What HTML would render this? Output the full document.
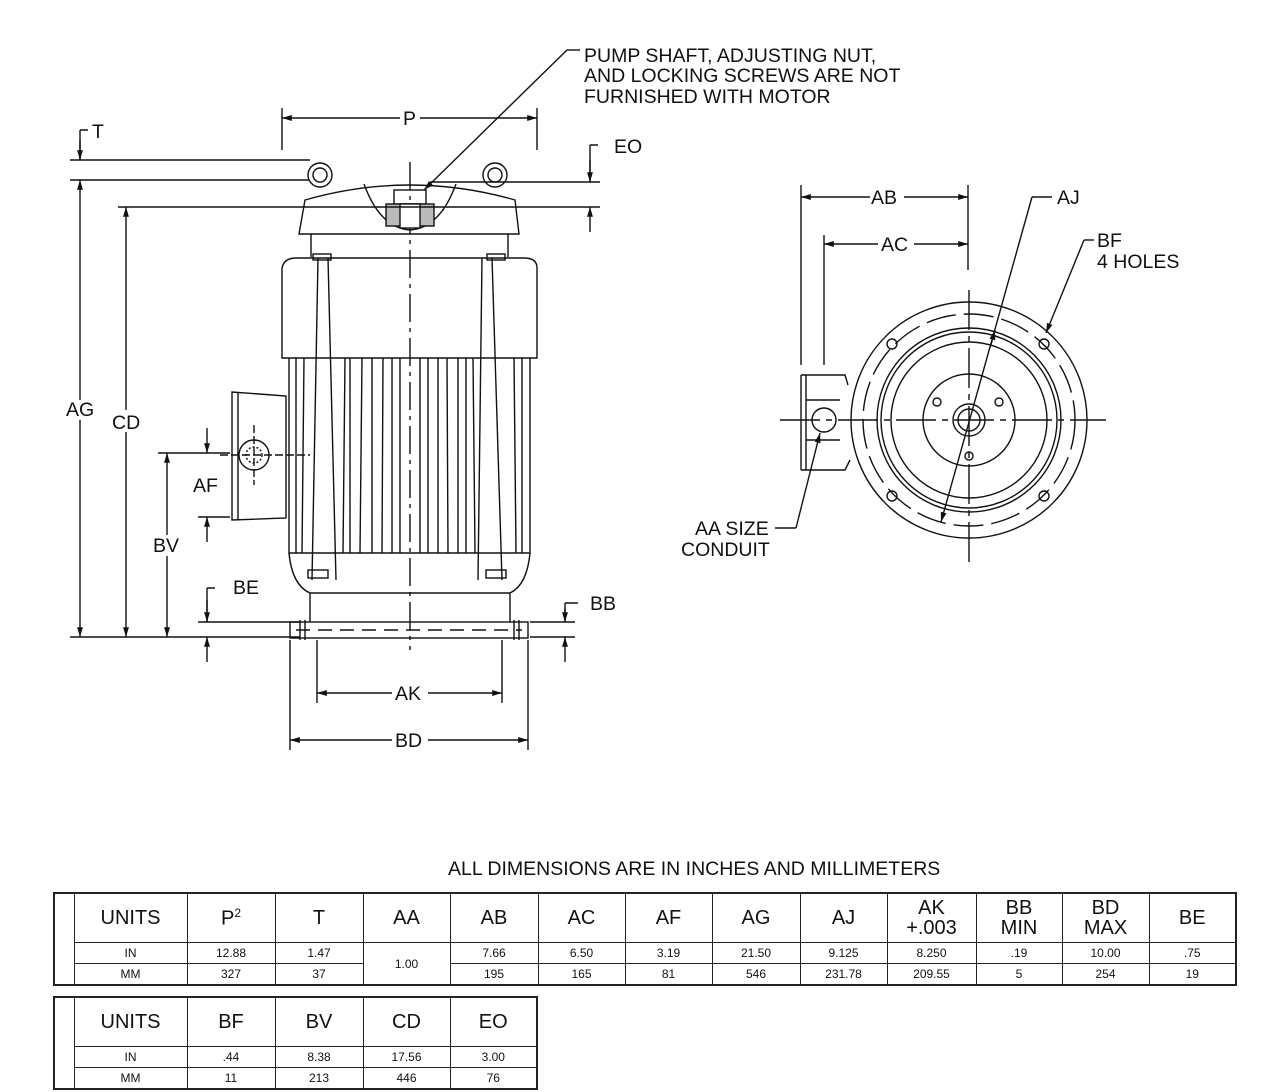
<!DOCTYPE html>
<html><head><meta charset="utf-8"><style>
body{margin:0;background:#fff;}
svg{display:block;font-family:"Liberation Sans",Arial,sans-serif;}
svg text{fill:#111;stroke:none;}
table{border-collapse:collapse;position:absolute;font-family:"Liberation Sans",Arial,sans-serif;text-align:center;}
td{border:1.5px solid #222;padding:0;font-size:12px;color:#111;}
.h td{font-size:20px;height:48px;}
.r td{height:20px;}
</style></head><body>
<div style="position:relative;width:1280px;height:1092px;overflow:hidden">
<svg width="1280" height="1092" viewBox="0 0 1280 1092" stroke="#111" fill="none" stroke-width="1.4">
<defs><marker id="a" viewBox="0 0 10 10" refX="10" refY="5" markerWidth="10" markerHeight="7" orient="auto-start-reverse"><path d="M0,2L10,5L0,8z" fill="#111" stroke="none"/></marker></defs>
<g font-size="19.5" fill="none">
<line x1="410" y1="162" x2="410" y2="650" stroke-dasharray="28,6,4,6"/>
<circle cx="320" cy="175" r="12"/><circle cx="320" cy="175" r="7"/>
<circle cx="495" cy="175" r="12"/><circle cx="495" cy="175" r="7"/>
<path d="M299,234 L305,200 Q410,170 515,200 L519,234 Z"/>
<path d="M364,184 Q380,228 410,230 Q440,228 456,184"/>
<rect x="394" y="190" width="32" height="14"/><rect x="386" y="204" width="48" height="22" fill="#bbb"/>
<rect x="400" y="204" width="20" height="24" fill="#fff"/>
<path d="M311,234 L311,257 M508,234 L508,257"/>
<path d="M282,358 L282,268 Q284,258 296,258 L524,258 Q537,258 537,268 L537,358 Z"/>
<path d="M318,258 L312,580 M328,258 L336,580 M492,258 L502,580 M482,258 L478,580"/>
<rect x="313" y="254" width="18" height="6"/><rect x="487" y="254" width="18" height="6"/>
<path d="M289,358 L289,553 L530,553 L530,358"/>
<path d="M296,358L296,553 M304,358L302,553 M345,358L343,553 M350,358L350,553 M362,358L360,553 M372,358L372,553 M383,358L382,553 M392,358L392,553 M400,358L400,553 M420,358L420,553 M428,358L428,553 M438,358L438,553 M447,358L448,553 M458,358L458,553 M466,358L466,553 M473,358L475,553 M514,358L516,553 M522,358L522,553"/>
<path d="M289,553 Q292,585 310,593 L310,622 M530,553 Q527,585 510,593 L510,622 M310,593 L510,593"/>
<rect x="308" y="570" width="20" height="8"/><rect x="486" y="570" width="20" height="8"/>
<rect x="290" y="622" width="238" height="16"/>
<line x1="296" y1="630" x2="522" y2="630" stroke-dasharray="14,8"/>
<path d="M300,620V640 M305,620V640 M514,620V640 M519,620V640"/>
<path d="M232,392 L232,520 L286,518 L286,396 Z M238,392 L238,520"/>
<circle cx="254" cy="455" r="15"/><circle cx="254" cy="455" r="8" stroke-dasharray="2,2"/>
<path d="M220,455 H310 M254,425 V485" stroke-dasharray="8,3"/>
<path d="M282,108V150 M537,108V150"/>
<line x1="282" y1="118" x2="400" y2="118" marker-start="url(#a)"/><line x1="420" y1="118" x2="537" y2="118" marker-end="url(#a)"/>
<text x="403" y="125">P</text>
<path d="M70,160H310 M70,180H309 M118,207H600 M70,637H300 M158,453H230 M198,517H230 M198,622H300 M430,182H600 M530,637H575 M530,622H575"/>
<path d="M80,130V160 M80,130H88" /><line x1="80" y1="140" x2="80" y2="160" marker-end="url(#a)"/>
<text x="92" y="138">T</text>
<line x1="80" y1="400" x2="80" y2="180" marker-end="url(#a)"/><line x1="80" y1="420" x2="80" y2="637" marker-end="url(#a)"/>
<text x="66" y="416">AG</text>
<line x1="126" y1="410" x2="126" y2="207" marker-end="url(#a)"/><line x1="126" y1="432" x2="126" y2="637" marker-end="url(#a)"/>
<text x="112" y="429">CD</text>
<line x1="167" y1="535" x2="167" y2="453" marker-end="url(#a)"/><line x1="167" y1="556" x2="167" y2="637" marker-end="url(#a)"/>
<text x="153" y="552">BV</text>
<line x1="207" y1="428" x2="207" y2="453" marker-end="url(#a)"/><line x1="207" y1="542" x2="207" y2="517" marker-end="url(#a)"/>
<text x="193" y="492">AF</text>
<path d="M207,588H215 M207,588V622"/><line x1="207" y1="600" x2="207" y2="622" marker-end="url(#a)"/><line x1="207" y1="662" x2="207" y2="637" marker-end="url(#a)"/>
<text x="233" y="594">BE</text>
<path d="M590,145H598 M590,145V182"/><line x1="590" y1="160" x2="590" y2="182" marker-end="url(#a)"/><line x1="590" y1="232" x2="590" y2="207" marker-end="url(#a)"/>
<text x="614" y="153">EO</text>
<path d="M565,603H578 M565,603V622"/><line x1="565" y1="608" x2="565" y2="622" marker-end="url(#a)"/><line x1="565" y1="662" x2="565" y2="637" marker-end="url(#a)"/>
<text x="590" y="610">BB</text>
<path d="M317,640V703 M502,640V703 M290,640V750 M528,640V750"/>
<line x1="392" y1="693" x2="317" y2="693" marker-end="url(#a)"/><line x1="428" y1="693" x2="502" y2="693" marker-end="url(#a)"/>
<text x="395" y="700">AK</text>
<line x1="392" y1="740" x2="290" y2="740" marker-end="url(#a)"/><line x1="428" y1="740" x2="528" y2="740" marker-end="url(#a)"/>
<text x="395" y="747">BD</text>
<path d="M580,50H567"/><line x1="567" y1="50" x2="424" y2="190" marker-end="url(#a)"/>
<text><tspan x="584" y="62">PUMP SHAFT, ADJUSTING NUT,</tspan><tspan x="584" y="82">AND LOCKING SCREWS ARE NOT</tspan><tspan x="584" y="103">FURNISHED WITH MOTOR</tspan></text>
<circle cx="969" cy="420" r="118"/>
<circle cx="969" cy="420" r="106" stroke-dasharray="30,8"/>
<circle cx="969" cy="420" r="92"/><circle cx="969" cy="420" r="88"/><circle cx="969" cy="420" r="78"/>
<circle cx="969" cy="420" r="46"/><circle cx="969" cy="420" r="16"/><circle cx="969" cy="420" r="11"/>
<circle cx="892" cy="344" r="5"/><circle cx="1044" cy="344" r="5"/><circle cx="892" cy="496" r="5"/><circle cx="1044" cy="496" r="5"/>
<circle cx="937" cy="402" r="4"/><circle cx="999" cy="402" r="4"/><circle cx="969" cy="456" r="4"/>
<path d="M780,420H1106 M969,290V562" stroke-dasharray="40,6,6,6"/>
<path d="M801,375V470 M806,375V470 M801,375H845L848,385 M801,470H845L850,460 M806,400H840 M806,440H840"/>
<circle cx="824" cy="420" r="12"/>
<path d="M801,185V365 M824,235V365 M968,185V270"/>
<line x1="870" y1="197" x2="801" y2="197" marker-end="url(#a)"/><line x1="904" y1="197" x2="968" y2="197" marker-end="url(#a)"/>
<text x="871" y="204">AB</text>
<line x1="878" y1="244" x2="824" y2="244" marker-end="url(#a)"/><line x1="914" y1="244" x2="968" y2="244" marker-end="url(#a)"/>
<text x="881" y="251">AC</text>
<path d="M1052,197H1032"/><line x1="1032" y1="197" x2="941" y2="522" marker-end="url(#a)"/><line x1="990" y1="348" x2="995" y2="330" marker-end="url(#a)"/>
<text x="1057" y="204">AJ</text>
<path d="M1094,240H1084"/><line x1="1084" y1="240" x2="1046" y2="333" marker-end="url(#a)"/>
<text><tspan x="1097" y="247">BF</tspan><tspan x="1097" y="268">4 HOLES</tspan></text>
<path d="M775,528H796"/><line x1="796" y1="528" x2="820" y2="433" marker-end="url(#a)"/>
<text><tspan x="695" y="535">AA SIZE</tspan><tspan x="681" y="556">CONDUIT</tspan></text>
<text x="448" y="875">ALL DIMENSIONS ARE IN INCHES AND MILLIMETERS</text>
</g>
</svg>
<table style="left:53px;top:892px;width:1184px;border:2.5px solid #222">
<colgroup><col style="width:20px"><col style="width:113px"><col style="width:88px"><col style="width:88px"><col style="width:87px"><col style="width:88px"><col style="width:87px"><col style="width:87px"><col style="width:88px"><col style="width:87px"><col style="width:89px"><col style="width:86px"><col style="width:87px"><col></colgroup>
<tr class="h"><td rowspan="3"></td><td>UNITS</td><td>P<sup style="font-size:12px">2</sup></td><td>T</td><td>AA</td><td>AB</td><td>AC</td><td>AF</td><td>AG</td><td>AJ</td><td style="line-height:20px">AK<br>+.003</td><td style="line-height:20px">BB<br>MIN</td><td style="line-height:20px">BD<br>MAX</td><td>BE</td></tr>
<tr class="r"><td>IN</td><td>12.88</td><td>1.47</td><td rowspan="2">1.00</td><td>7.66</td><td>6.50</td><td>3.19</td><td>21.50</td><td>9.125</td><td>8.250</td><td>.19</td><td>10.00</td><td>.75</td></tr>
<tr class="r"><td>MM</td><td>327</td><td>37</td><td>195</td><td>165</td><td>81</td><td>546</td><td>231.78</td><td>209.55</td><td>5</td><td>254</td><td>19</td></tr>
</table>
<table style="left:53px;top:996px;width:485px;border:2.5px solid #222">
<colgroup><col style="width:20px"><col style="width:113px"><col style="width:88px"><col style="width:88px"><col style="width:87px"><col></colgroup>
<tr class="h"><td rowspan="3"></td><td>UNITS</td><td>BF</td><td>BV</td><td>CD</td><td>EO</td></tr>
<tr class="r"><td>IN</td><td>.44</td><td>8.38</td><td>17.56</td><td>3.00</td></tr>
<tr class="r"><td>MM</td><td>11</td><td>213</td><td>446</td><td>76</td></tr>
</table>
</div>
</body></html>
